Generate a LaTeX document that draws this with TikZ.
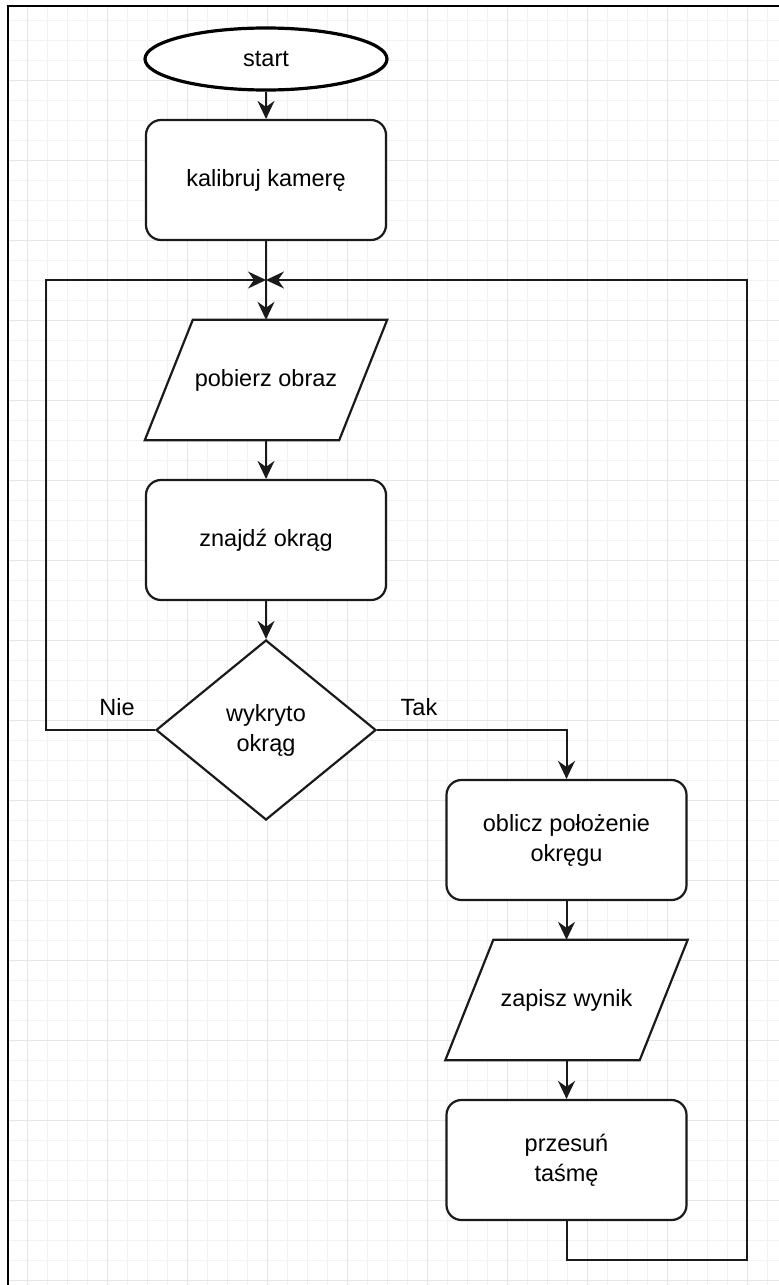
\documentclass[tikz,border=0pt]{standalone}
\usepackage{fontspec}
\setmainfont{Liberation Sans}
\usetikzlibrary{shapes.geometric,arrows.meta,backgrounds}
\definecolor{gridmin}{HTML}{F2F2F2}
\definecolor{gridmaj}{HTML}{E6E6E6}
\definecolor{ink}{HTML}{1A1A1A}
\begin{document}
\begin{tikzpicture}[x=1pt,y=-1pt,
  every node/.style={font=\fontsize{23.5}{30}\selectfont, text=black, align=center},
  box/.style={draw=ink, line width=2.2pt, rounded corners=15pt, minimum width=240pt, minimum height=120pt, inner sep=0pt, fill=white},
  term/.style={ellipse, draw=black, line width=3.2pt, minimum width=242pt, minimum height=62pt, inner sep=0pt, fill=white},
  io/.style={minimum width=242pt, minimum height=120pt, inner sep=0pt},
  iopoly/.style={draw=ink, line width=2.2pt, fill=white, line join=miter},
  decision/.style={diamond, draw=ink, line width=2.2pt, minimum width=220pt, minimum height=180pt, inner sep=0pt, fill=white},
  conn/.style={draw=ink, line width=2pt, -{Stealth[length=18pt,width=17pt,inset=6pt]}},
  lbl/.style={inner sep=0pt}
]
\useasboundingbox (0,0) rectangle (779,1285);
% grid
\begin{pgfonlayer}{background}
\begin{scope}
\clip (8,6) rectangle (779,1285);
\foreach \x in {7,27,...,779} \draw[gridmin, line width=1pt] (\x,0) -- (\x,1285);
\foreach \y in {0,20,...,1285} \draw[gridmin, line width=1pt] (0,\y) -- (779,\y);
\foreach \x in {27,107,...,779} \draw[gridmaj, line width=1pt] (\x,0) -- (\x,1285);
\foreach \y in {0,80,...,1285} \draw[gridmaj, line width=1pt] (0,\y) -- (779,\y);
\end{scope}
\draw[black, line width=2.2pt] (8,1285) -- (8,6) -- (779,6);
\end{pgfonlayer}

% nodes
\node[term] (start) at (266,59) {start};
\node[box] (kal) at (266,180) {kalibruj kamerę};
\coordinate (j) at (266,280);
\node[io] (pob) at (266,380) {pobierz obraz};
\node[box] (zna) at (266,540) {znajdź okrąg};
\node[decision, aspect=1.2222] (dia) at (266,730) {wykryto\\okrąg};
\node[lbl] (nie) at (117,707) {Nie};
\node[lbl] (tak) at (419,707) {Tak};
\node[box] (obl) at (566.5,840) {oblicz położenie\\okręgu};
\node[io] (zap) at (566.5,1000) {zapisz wynik};
\node[box] (prz) at (566.5,1160) {przesuń\\taśmę};
\coordinate (lc) at (46,280);
\coordinate (rb) at (747,1260);

\begin{pgfonlayer}{background}
\path[iopoly] ([xshift=48pt]pob.north west) -- (pob.north east) -- ([xshift=-48pt]pob.south east) -- (pob.south west) -- cycle;
\path[iopoly] ([xshift=48pt]zap.north west) -- (zap.north east) -- ([xshift=-48pt]zap.south east) -- (zap.south west) -- cycle;
\end{pgfonlayer}

% connectors
\draw[conn] (start.south) -- (kal.north);
\draw[conn] (kal.south) -- (pob.north);
\draw[conn] (pob.south) -- (zna.north);
\draw[conn] (zna.south) -- (dia.north);
\draw[conn] (dia.west) -| (lc) -- (j);
\draw[conn] (dia.east) -| (obl.north);
\draw[conn] (obl.south) -- (zap.north);
\draw[conn] (zap.south) -- (prz.north);
\draw[conn] (prz.south) |- (rb) |- (j);
\end{tikzpicture}
\end{document}
